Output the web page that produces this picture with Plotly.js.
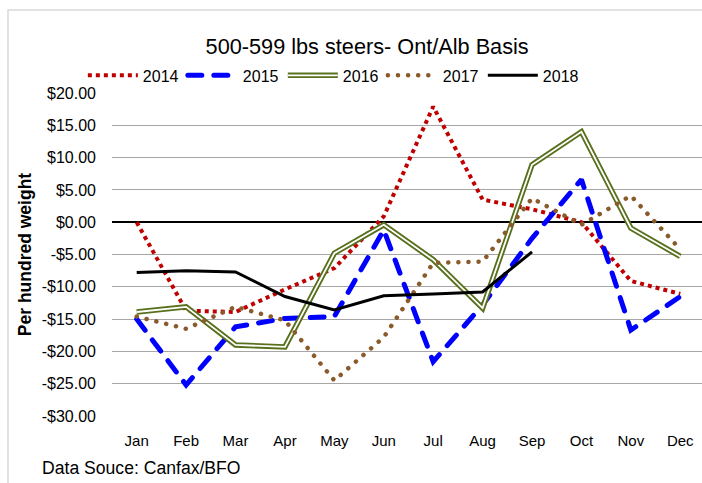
<!DOCTYPE html>
<html>
<head>
<meta charset="utf-8">
<script src="https://cdn.plot.ly/plotly-3.0.1.min.js"></script>
<style>
html,body{margin:0;padding:0;background:#fff;}
#chart{width:702px;height:483px;}
</style>
</head>
<body>
<div id="chart"></div>
<script>
const months = ['Jan','Feb','Mar','Apr','May','Jun','Jul','Aug','Sep','Oct','Nov','Dec'];
const y2014 = [0.0, -13.7, -13.9, -10.4, -7.1, 0.9, 17.9, 3.5, 2.0, 0.0, -9.1, -11.1];
const y2015 = [-15.0, -25.2, -16.2, -14.9, -14.6, -1.2, -21.6, -12.8, -2.5, 6.6, -16.7, -11.5];
const y2016 = [-13.9, -13.1, -19.0, -19.3, -4.8, -0.4, -5.8, -13.3, 8.9, 14.0, -0.9, -5.3];
const y2017 = [-14.6, -16.5, -13.1, -15.2, -24.5, -17.8, -6.3, -6.1, 3.7, -0.4, 4.1, -4.2];
const y2018 = [-7.8, -7.5, -7.7, -11.5, -13.6, -11.4, -11.1, -10.8, -4.6];
const yTickVals = [20, 15, 10, 5, 0, -5, -10, -15, -20, -25, -30];
const yTickText = ['$20.00','$15.00','$10.00','$5.00','$0.00','-$5.00','-$10.00','-$15.00','-$20.00','-$25.00','-$30.00'];

const FONT = 'Liberation Sans, Arial, sans-serif';

const data = [
  {x: months, y: y2014, name: '2014', mode: 'lines', line: {color: '#c00000', width: 4, dash: '4px,4px'}},
  {x: months, y: y2015, name: '2015', mode: 'lines', line: {color: '#0000ff', width: 5, dash: '14px,12px'}},
  {x: months, y: y2016, name: '2016', mode: 'lines', line: {color: '#58701c', width: 5.5}},
  {x: months, y: y2016, name: '2016', mode: 'lines', showlegend: false, hoverinfo: 'skip', line: {color: '#ffffff', width: 1.8}},
  {x: months, y: y2017, name: '2017', mode: 'lines', line: {color: '#8b5a2b', width: 4.5, dash: '0.1px,10px'}},
  {x: months.slice(0, y2018.length), y: y2018, name: '2018', mode: 'lines', line: {color: '#000000', width: 3}}
];

const layout = {
  width: 702, height: 483,
  margin: {l: 112, r: 0, t: 93, b: 67},
  paper_bgcolor: '#ffffff', plot_bgcolor: '#ffffff',
  font: {family: FONT, color: '#000000', size: 15},
  title: {text: '500-599 lbs steers- Ont/Alb Basis', font: {size: 21.7, color: '#000'},
          xref: 'container', yref: 'container', x: 0.523, y: 0.903, xanchor: 'center', yanchor: 'middle'},
  showlegend: true,
  legend: {orientation: 'h', xref: 'container', yref: 'container', x: 0.118, y: 0.879,
           xanchor: 'left', yanchor: 'top', entrywidth: 35, entrywidthmode: 'pixels',
           itemwidth: 50, font: {size: 16}, bgcolor: 'rgba(0,0,0,0)', traceorder: 'normal'},
  xaxis: {type: 'category', range: [-0.5, 11.44], showgrid: false, zeroline: false, showline: false,
          ticks: '', ticklabelstandoff: 14, tickfont: {size: 15}, fixedrange: true},
  yaxis: {range: [-30, 20], tickvals: yTickVals, ticktext: yTickText, showgrid: true,
          gridcolor: '#a6a6a6', gridwidth: 1, zeroline: true, zerolinecolor: '#000000', zerolinewidth: 2,
          showline: false, ticks: '', ticklabelstandoff: 15, tickfont: {size: 16},
          title: {text: '<b>Per hundred weight</b>', font: {size: 17.5}, standoff: 5}, fixedrange: true},
  annotations: [
    {text: 'Data Souce: Canfax/BFO', xref: 'paper', yref: 'paper', x: -0.122, y: -0.162,
     xanchor: 'left', yanchor: 'middle', showarrow: false, font: {size: 17.6}}
  ],
  shapes: [
    {type: 'rect', xref: 'paper', yref: 'paper', x0: -0.1763, x1: 1.02, y0: -0.25, y1: 1.257,
     line: {color: '#d9d9d9', width: 1.5}, fillcolor: 'rgba(0,0,0,0)', layer: 'below'}
  ]
};

const gd = document.getElementById('chart');
Plotly.newPlot(gd, data, layout, {staticPlot: true, displayModeBar: false}).then(function () {
  const traces = gd.querySelectorAll('.scatterlayer .trace');
  [1, 4].forEach(function (i) {
    if (traces[i]) traces[i].querySelectorAll('path.js-line').forEach(function (p) { p.style.strokeLinecap = 'round'; });
  });
  const leg = gd.querySelectorAll('.legend .traces');
  [1, 3].forEach(function (i) {
    if (leg[i]) leg[i].querySelectorAll('path.js-line').forEach(function (p) { p.style.strokeLinecap = 'round'; });
  });
  if (leg[2]) {
    const p = leg[2].querySelector('path.js-line');
    if (p) {
      const c = p.cloneNode(true);
      c.style.stroke = '#ffffff';
      c.style.strokeWidth = '1.8px';
      p.parentNode.appendChild(c);
    }
  }
});
</script>
</body>
</html>
